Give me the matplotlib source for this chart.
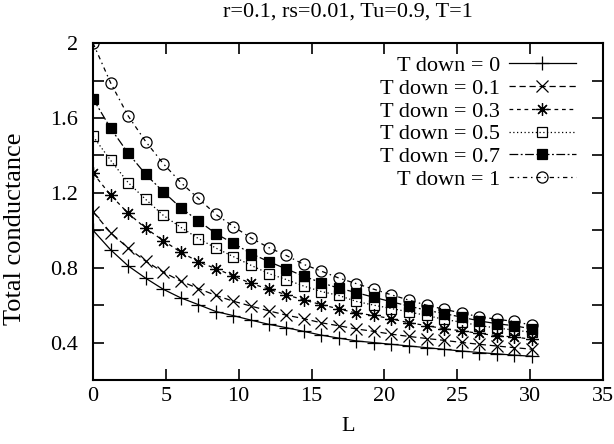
import matplotlib
matplotlib.use("Agg")
import matplotlib.pyplot as plt
from matplotlib.ticker import MultipleLocator, FixedLocator

plt.rcParams['font.family'] = ['Liberation Serif', 'DejaVu Serif']

title = "r=0.1, rs=0.01, Tu=0.9, T=1"
xlabel = "L"
ylabel = "Total conductance"

L = [0.0, 1.205, 2.41, 3.615, 4.82, 6.025, 7.23, 8.435, 9.64, 10.845, 12.05, 13.255, 14.46,
     15.665, 16.87, 18.075, 19.28, 20.485, 21.69, 22.895, 24.1, 25.305, 26.51, 27.715, 28.92, 30.125]

labels = ["T down = 0", "T down = 0.1", "T down = 0.3", "T down = 0.5", "T down = 0.7", "T down = 1"]

g_0 = [1.0, 0.896, 0.810, 0.744, 0.685, 0.639, 0.603, 0.566, 0.544, 0.520, 0.498, 0.480, 0.460,
       0.440, 0.424, 0.409, 0.400, 0.391, 0.382, 0.373, 0.364, 0.355, 0.347, 0.340, 0.333, 0.327]
g_01 = [1.1, 0.987, 0.905, 0.835, 0.777, 0.728, 0.689, 0.652, 0.621, 0.595, 0.570, 0.547, 0.528,
        0.506, 0.490, 0.473, 0.460, 0.445, 0.433, 0.422, 0.412, 0.401, 0.391, 0.382, 0.373, 0.365]
g_03 = [1.305, 1.188, 1.091, 1.011, 0.945, 0.883, 0.832, 0.795, 0.756, 0.716, 0.686, 0.656, 0.628,
        0.603, 0.580, 0.558, 0.545, 0.527, 0.506, 0.491, 0.474, 0.463, 0.449, 0.437, 0.430, 0.418]
g_05 = [1.502, 1.374, 1.255, 1.165, 1.080, 1.016, 0.956, 0.905, 0.859, 0.813, 0.769, 0.737, 0.702,
        0.673, 0.652, 0.620, 0.600, 0.582, 0.564, 0.545, 0.524, 0.509, 0.491, 0.478, 0.467, 0.455]
g_07 = [1.703, 1.545, 1.412, 1.299, 1.206, 1.120, 1.051, 0.982, 0.930, 0.876, 0.833, 0.794, 0.755,
        0.720, 0.691, 0.667, 0.642, 0.618, 0.595, 0.573, 0.555, 0.536, 0.516, 0.501, 0.490, 0.473]
g_1 = [2.0, 1.788, 1.611, 1.474, 1.356, 1.255, 1.170, 1.085, 1.020, 0.959, 0.908, 0.866, 0.818,
       0.782, 0.745, 0.715, 0.685, 0.655, 0.627, 0.600, 0.578, 0.558, 0.538, 0.525, 0.513, 0.493]

series = [g_0, g_01, g_03, g_05, g_07, g_1]
markers = ['+', 'x', (8, 2, 0), 's', 's', 'o']
facecolors = ['none', 'none', 'none', 'none', 'black', 'none']
dashes = [(None, None), (5, 3), (3, 3), (1, 2), (7, 2, 1.5, 2), (3.5, 3, 1.2, 3)]
msizes = [9.5, 8, 9, 7.5, 7.5, 8]

fig = plt.figure(figsize=(6.14, 4.44), dpi=100)
ax = fig.add_axes([0.1515, 0.144, 0.8305, 0.759])

for y, lab, m, fc, d, ms in zip(series, labels, markers, facecolors, dashes, msizes):
    line, = ax.plot(L, y, color='black', linewidth=0.9, marker=m, markersize=ms,
                    markerfacecolor=fc, markeredgecolor='black', markeredgewidth=0.9,
                    label=lab)
    if d[0] is not None:
        line.set_dashes(d)

ax.set_xlim(0, 35)
ax.set_ylim(0.2, 2.0)
ax.xaxis.set_major_locator(MultipleLocator(5))
ax.yaxis.set_major_locator(FixedLocator([0.4, 0.8, 1.2, 1.6, 2.0]))
ax.yaxis.set_minor_locator(FixedLocator([0.6, 1.0, 1.4, 1.8]))
ax.set_yticklabels(["0.4", "0.8", "1.2", "1.6", "2"])

ax.tick_params(which='both', direction='in', length=8, width=1.2, top=True, right=True,
               labelsize=16, colors='black')
ax.tick_params(axis='y', pad=11)
ax.tick_params(axis='x', pad=5)
for s in ax.spines.values():
    s.set_linewidth(1.5)

ax.set_title(title, fontsize=16, pad=19)
ax.set_xlabel(xlabel, fontsize=16)
ax.set_ylabel(ylabel, fontsize=19)
ax.xaxis.set_label_coords(0.5, -0.11)
ax.yaxis.set_label_coords(-0.132, 0.448)

leg = ax.legend(loc='upper right', bbox_to_anchor=(0.977, 1.009), frameon=False,
                markerfirst=False, numpoints=1, handlelength=3.0, fontsize=16,
                labelspacing=0.1, handletextpad=0.4, borderpad=0.2)

fig.savefig("out.png", dpi=100)
